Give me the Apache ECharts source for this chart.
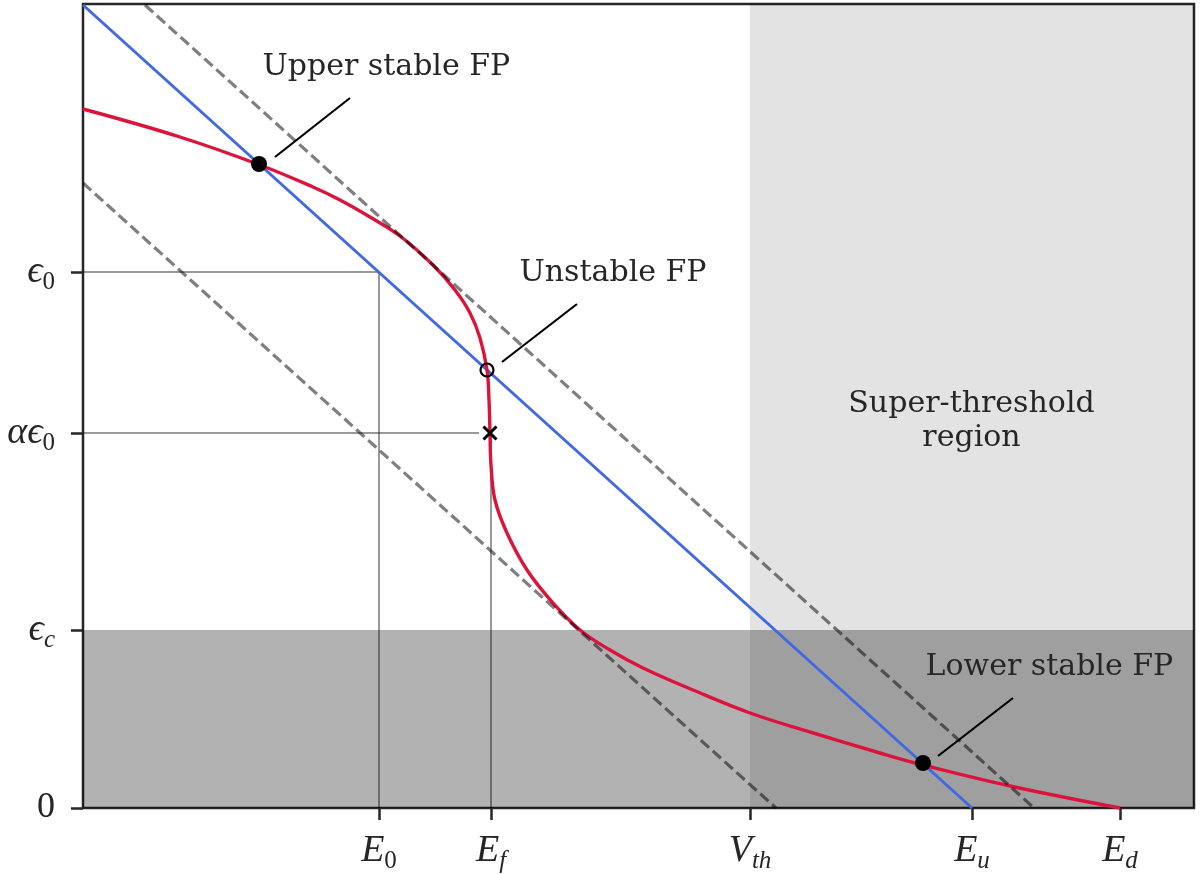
<!DOCTYPE html>
<html>
<head>
    <meta charset="utf-8" />
    <title>Fixed points</title>
    <script src="https://cdn.jsdelivr.net/npm/echarts@6.0.0/dist/echarts.min.js"></script>
    <style type="text/css">
        body {
            margin: 0;
            padding: 0;
            background-color: #fff;
        }

        #main {
            width: 1200px;
            height: 874px;
        }
    </style>
</head>
<body>
    <div id="main"></div>
    <script type="text/javascript">
        // axis extent (arbitrary units)
        var xMax = 1111, yMax = 804;

        // tick positions and math-style labels
        var xTickValues = [296, 408, 667, 889, 1037];
        var xTickLabels = ['{i|E}{s|0}', '{i|E}{si|f}', '{i|V}{si|th}', '{i|E}{si|u}', '{i|E}{si|d}'];
        var yTickValues = [0, 178, 375, 536];
        var yTickLabels = ['{n|0}', '{i|ϵ}{si|c}', '{i|αϵ}{s|0}', '{i|ϵ}{s|0}'];

        // shaded regions
        var vTh = 667;
        var epsC = 178;

        // red transfer curve
        var curveX = [0, 97, 177, 230, 257, 287, 317, 350, 372, 387, 397, 404, 406, 407, 408, 412, 424, 444, 470, 497, 527, 560, 610, 667, 727, 797, 840, 927, 1037];
        var curveY = [699, 671, 643, 621, 608, 591, 572, 543, 518, 495, 470, 438, 408, 375, 343, 308, 275, 238, 205, 178, 158, 140, 118, 95, 76, 55, 43, 22, 0];

        // straight lines
        var blueLine = [[0, 803], [889, 0]];
        var upperDashed = [[62, 803], [951, 0]];
        var lowerDashed = [[0, 625], [693, 0]];

        // guide lines
        var guideE0 = [[0, 536], [296, 536], [296, 0]];
        var guideEfH = [[0, 375], [396, 375]];
        var guideEfV = [[408, 375], [408, 0]];

        // fixed points
        var stablePoints = [[176, 644], [840, 45]];
        var unstablePoints = [[404, 438]];
        var crossPoints = [[407, 375]];

        // annotations
        var noteTexts = ['Upper stable FP', 'Unstable FP', 'Lower stable FP'];
        var notePos = [[180, 740], [437, 534], [843, 140]];
        var noteLeaders = [
            [[192, 651], [267, 710]],
            [[419, 446], [494, 504]],
            [[855, 52], [930, 110]]
        ];
        var regionText = 'Super-threshold\nregion';
        var regionPos = [889, 386];

        var textColor = '#262626';
        var serif = 'DejaVu Serif';
        var mathFont = 'Liberation Serif, DejaVu Serif, serif';

        var rich = {
            i: { fontFamily: mathFont, fontStyle: 'italic', fontSize: 38, lineHeight: 46, color: textColor },
            n: { fontFamily: mathFont, fontSize: 36, lineHeight: 46, color: textColor },
            s: { fontFamily: mathFont, fontSize: 25, lineHeight: 25, verticalAlign: 'bottom', color: textColor },
            si: { fontFamily: mathFont, fontStyle: 'italic', fontSize: 25, lineHeight: 25, verticalAlign: 'bottom', color: textColor }
        };

        function simpleLine(name, data, color, width, type, z) {
            return {
                name: name,
                type: 'line',
                data: data,
                symbol: 'none',
                silent: true,
                z: z,
                lineStyle: { color: color, width: width, type: type }
            };
        }

        var series = [];

        // shading + guides
        var guides = simpleLine('guideE0', guideE0, 'rgba(0,0,0,0.4)', 2, 'solid', 2);
        guides.markArea = {
            silent: true,
            data: [
                [{ coord: [vTh, 0], itemStyle: { color: 'rgba(0,0,0,0.11)' } }, { coord: [xMax, yMax] }],
                [{ coord: [0, 0], itemStyle: { color: 'rgba(0,0,0,0.3)' } }, { coord: [xMax, epsC] }]
            ]
        };
        series.push(guides);
        series.push(simpleLine('guideEfH', guideEfH, 'rgba(0,0,0,0.4)', 2, 'solid', 2));
        series.push(simpleLine('guideEfV', guideEfV, 'rgba(0,0,0,0.4)', 2, 'solid', 2));

        series.push(simpleLine('blue', blueLine, '#4169e1', 3, 'solid', 3));
        var red = simpleLine('red', curveX.map(function (x, k) { return [x, curveY[k]]; }), '#dc143c', 3.4, 'solid', 4);
        red.smooth = 0.4;
        series.push(red);
        series.push(simpleLine('upperDashed', upperDashed, 'rgba(0,0,0,0.5)', 3.2, [11, 5], 5));
        series.push(simpleLine('lowerDashed', lowerDashed, 'rgba(0,0,0,0.5)', 3.2, [11, 5], 5));

        noteLeaders.forEach(function (seg, k) {
            series.push(simpleLine('leader' + k, seg, '#000', 2.2, 'solid', 6));
        });

        series.push({
            type: 'scatter', data: stablePoints, symbol: 'circle', symbolSize: 16, z: 7, silent: true,
            itemStyle: { color: '#000', opacity: 1 }
        });
        series.push({
            type: 'scatter', data: unstablePoints, symbol: 'circle', symbolSize: 13, z: 7, silent: true,
            itemStyle: { color: 'rgba(0,0,0,0)', borderColor: '#000', borderWidth: 2.2, opacity: 1 }
        });
        series.push({
            type: 'scatter', data: crossPoints, symbol: 'path://M0,0L10,10M10,0L0,10', symbolSize: 13, z: 7, silent: true,
            itemStyle: { color: 'rgba(0,0,0,0)', borderColor: '#000', borderWidth: 3, opacity: 1 }
        });

        // text annotations
        series.push({
            type: 'scatter',
            silent: true,
            symbolSize: 1,
            z: 8,
            itemStyle: { color: 'rgba(0,0,0,0)', opacity: 1 },
            data: noteTexts.map(function (t, k) {
                return { value: notePos[k], label: { formatter: t } };
            }).concat([{
                value: regionPos,
                label: { formatter: regionText, align: 'center', lineHeight: 34 }
            }]),
            label: {
                show: true,
                position: [0, 0],
                align: 'left',
                verticalAlign: 'middle',
                fontFamily: serif,
                fontSize: 30,
                color: textColor
            }
        });

        var myChart = echarts.init(document.getElementById('main'));
        myChart.setOption({
            animation: false,
            grid: {
                left: 83, right: 6, top: 4, bottom: 66,
                show: true, borderColor: textColor, borderWidth: 2.5, backgroundColor: 'transparent'
            },
            xAxis: {
                type: 'value', min: 0, max: xMax,
                splitLine: { show: false },
                axisLine: { show: false },
                axisTick: {
                    show: true, customValues: xTickValues, length: 12,
                    lineStyle: { color: textColor, width: 2.5 }
                },
                axisLabel: {
                    customValues: xTickValues,
                    margin: 20,
                    formatter: function (v) {
                        var k = xTickValues.indexOf(v);
                        return k < 0 ? '' : xTickLabels[k];
                    },
                    rich: rich
                }
            },
            yAxis: {
                type: 'value', min: 0, max: yMax,
                splitLine: { show: false },
                axisLine: { show: false },
                axisTick: {
                    show: true, customValues: yTickValues, length: 12,
                    lineStyle: { color: textColor, width: 2.5 }
                },
                axisLabel: {
                    customValues: yTickValues,
                    margin: 28,
                    formatter: function (v) {
                        var k = yTickValues.indexOf(v);
                        return k < 0 ? '' : yTickLabels[k];
                    },
                    rich: rich
                }
            },
            series: series
        });
    </script>
</body>
</html>
